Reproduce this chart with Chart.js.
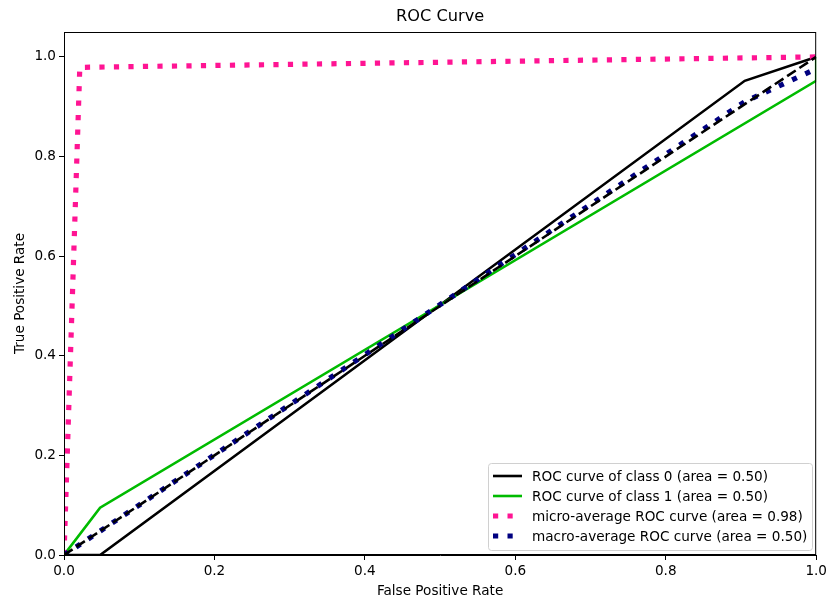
<!DOCTYPE html>
<html>
<head>
<meta charset="utf-8">
<script src="https://cdn.jsdelivr.net/npm/chart.js@4/dist/chart.umd.min.js"></script>
<style>
  html, body { margin: 0; padding: 0; background: #fff; }
  #wrap { width: 830px; height: 602px; }
</style>
</head>
<body>
<div id="wrap"><canvas id="roc" width="830" height="602"></canvas></div>
<script>
// curve points
const class0Fpr = [0, 0.048, 0.905, 1];
const class0Tpr = [0, 0, 0.952, 1];
const class1Fpr = [0, 0.048, 1, 1];
const class1Tpr = [0, 0.095, 0.952, 1];
const microFpr = [0, 0.021, 1];
const microTpr = [0, 0.979, 1];
const macroFpr = [0, 0.048, 0.905, 1];
const macroTpr = [0, 0.048, 0.91, 0.976];
const chanceFpr = [0, 1];
const chanceTpr = [0, 1];

const labels = [
  'ROC curve of class 0 (area = 0.50)',
  'ROC curve of class 1 (area = 0.50)',
  'micro-average ROC curve (area = 0.98)',
  'macro-average ROC curve (area = 0.50)'
];
const xTicks = [0, 0.2, 0.4, 0.6, 0.8, 1.0];
const yTicks = [0, 0.2, 0.4, 0.6, 0.8, 1.0];

const FONT = "'DejaVu Sans', sans-serif";
const FS = 13.6;

function pts(xs, ys) {
  return xs.map((x, i) => ({ x, y: ys[i] }));
}

function linea(label, xs, ys, color, width, dash, order) {
  return {
    label,
    data: pts(xs, ys),
    borderColor: color,
    backgroundColor: color,
    borderWidth: width,
    borderDash: dash,
    borderCapStyle: 'butt',
    pointRadius: 0,
    tension: 0,
    fill: false,
    order
  };
}

const DOT = [5.2, 9.3];

const datasets = [
  linea(labels[0], class0Fpr, class0Tpr, '#000000', 2.6, [], 4),
  linea(labels[1], class1Fpr, class1Tpr, '#00bb00', 2.6, [], 3),
  linea(labels[2], microFpr, microTpr, '#ff1493', 5.2, DOT, 2),
  linea(labels[3], macroFpr, macroTpr, '#000080', 5.2, DOT, 1),
  linea('', chanceFpr, chanceTpr, '#000000', 2.6, [10.3, 4.4], 0)
];

// marco, título y leyenda dibujados a mano
const extras = {
  id: 'extras',
  afterDraw(chart) {
    const { ctx, chartArea: a } = chart;
    ctx.save();
    ctx.strokeStyle = '#000';
    ctx.lineWidth = 1;
    ctx.strokeRect(a.left + 0.5, a.top + 0.5, a.right - a.left - 1, a.bottom - a.top - 1);

    ctx.fillStyle = '#000';
    ctx.font = '16.2px ' + FONT;
    ctx.textAlign = 'center';
    ctx.textBaseline = 'middle';
    ctx.fillText('ROC Curve', (a.left + a.right) / 2, 17);

    // leyenda
    const bx = 488.5, by = 463.5, bw = 324, bh = 87;
    ctx.beginPath();
    ctx.roundRect(bx, by, bw, bh, 3);
    ctx.fillStyle = 'rgba(255,255,255,0.8)';
    ctx.fill();
    ctx.strokeStyle = '#d0d0d0';
    ctx.stroke();

    ctx.font = FS + 'px ' + FONT;
    ctx.textAlign = 'left';
    datasets.slice(0, 4).forEach((d, i) => {
      const y = 476 + i * 20;
      ctx.beginPath();
      ctx.strokeStyle = d.borderColor;
      ctx.lineWidth = d.borderWidth;
      ctx.setLineDash(d.borderDash);
      ctx.lineCap = 'butt';
      ctx.moveTo(493, y);
      ctx.lineTo(522, y);
      ctx.stroke();
      ctx.setLineDash([]);
      ctx.fillStyle = '#000';
      ctx.fillText(d.label, 532, y + 1);
    });
    ctx.restore();
  }
};

new Chart(document.getElementById('roc'), {
  type: 'line',
  data: { datasets },
  options: {
    responsive: false,
    animation: false,
    layout: { padding: { left: 0, top: 32, right: 12, bottom: 0 } },
    plugins: {
      legend: { display: false },
      title: { display: false },
      tooltip: { enabled: false }
    },
    scales: {
      x: {
        type: 'linear',
        min: 0,
        max: 1,
        afterBuildTicks: s => { s.ticks = xTicks.map(v => ({ value: v })); },
        afterFit: s => { s.height = 47; },
        grid: { drawOnChartArea: false, drawTicks: true, tickLength: 5, tickColor: '#000' },
        border: { display: true, color: '#000' },
        ticks: {
          color: '#000',
          font: { family: FONT, size: FS },
          padding: 3,
          maxRotation: 0,
          callback: v => v.toFixed(1)
        },
        title: {
          display: true,
          text: 'False Positive Rate',
          color: '#000',
          font: { family: FONT, size: FS },
          padding: { top: 0, bottom: 2 }
        }
      },
      y: {
        type: 'linear',
        min: 0,
        max: 1.05,
        afterBuildTicks: s => { s.ticks = yTicks.map(v => ({ value: v })); },
        afterFit: s => { s.width = 64; },
        grid: { drawOnChartArea: false, drawTicks: true, tickLength: 5, tickColor: '#000' },
        border: { display: true, color: '#000' },
        ticks: {
          color: '#000',
          font: { family: FONT, size: FS },
          padding: 3,
          callback: v => v.toFixed(1)
        },
        title: {
          display: true,
          text: 'True Positive Rate',
          color: '#000',
          font: { family: FONT, size: FS },
          padding: { top: 12, bottom: 4 }
        }
      }
    }
  },
  plugins: [extras]
});
</script>
</body>
</html>
